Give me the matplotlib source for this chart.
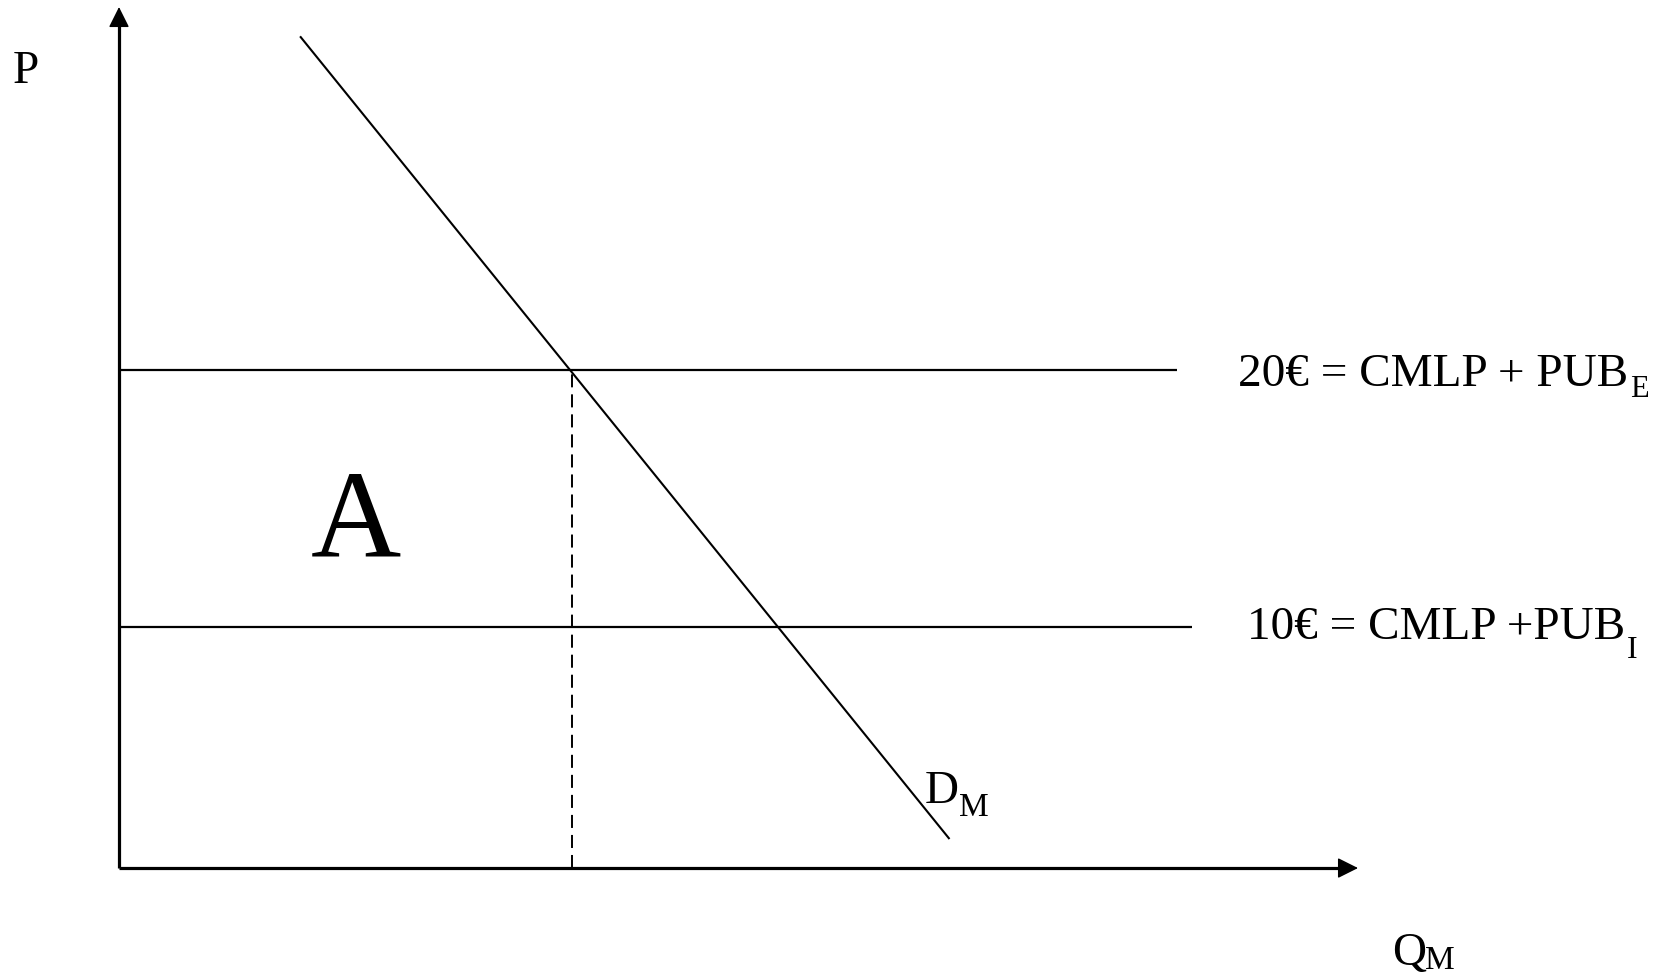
import matplotlib
matplotlib.use("Agg")
import matplotlib.pyplot as plt

plt.rcParams['font.family'] = ['Liberation Serif', 'DejaVu Serif']

# ---- data (economic units) ----
prices = [20, 10]                       # horizontal price levels
price_labels = ["20€ = CMLP + PUB", "10€ = CMLP +PUB"]
price_subs = ["E", "I"]
price_line_end_q = [46.75, 47.4]        # right ends of horizontal lines
demand_q = [8.03, 36.67]                # demand curve endpoints (Q)
demand_p = [32.93, 1.79]                # demand curve endpoints (P)
q_star = 20.0                           # quantity at P = 20
p_origin = 0.63                         # price at the horizontal axis
q_axis_end = 54.75
p_axis_end = 34.1

# ---- figure ----
W, H, DPI = 1666, 973, 100
fig = plt.figure(figsize=(W / DPI, H / DPI), dpi=DPI)
ax = fig.add_axes([0, 0, 1, 1])
ax.set_axis_off()

# pixel <-> data mapping (origin of axes at px (119, 868))
QPX, PPX = 22.63, 25.725
X0, Y0 = 119.0, 884.25
def q_of(px):
    return (px - X0) / QPX
def p_of(py):
    return (Y0 - py) / PPX

ax.set_xlim(q_of(0), q_of(W))
ax.set_ylim(p_of(H), p_of(0))

k = 'black'
# axes with arrows
ax.plot([0, 0], [p_origin, p_axis_end - 0.4], color=k, lw=2.3, solid_capstyle='butt')
ax.plot([0, q_axis_end - 0.4], [p_origin, p_origin], color=k, lw=2.3, solid_capstyle='butt')
ax.annotate('', xy=(0, p_axis_end), xytext=(0, p_axis_end - 1.5),
            arrowprops=dict(arrowstyle='-|>', lw=1.0, color=k, mutation_scale=32,
                            shrinkA=0, shrinkB=0))
ax.annotate('', xy=(q_axis_end, p_origin), xytext=(q_axis_end - 1.5, p_origin),
            arrowprops=dict(arrowstyle='-|>', lw=1.0, color=k, mutation_scale=32,
                            shrinkA=0, shrinkB=0))

# horizontal price lines
for p, qe in zip(prices, price_line_end_q):
    ax.plot([0, qe], [p, p], color=k, lw=1.6, solid_capstyle='butt')

# demand curve
ax.plot(demand_q, demand_p, color=k, lw=1.5)

# dashed vertical
ax.plot([q_star, q_star], [p_origin, prices[0]], color=k, lw=1.4,
        dashes=(6.7, 3.6))

# ---- text ----
def txt(px, py, s, size, **kw):
    return ax.text(q_of(px), p_of(py), s, fontsize=size, ha='left', va='baseline',
                   color=k, **kw)

txt(13, 83, "P", 34)
t1 = txt(1238, 386, price_labels[0], 34)
t2 = txt(1247, 639, price_labels[1], 34)
ax.text(q_of(356), p_of(557), "A", fontsize=90, ha='center', va='baseline', color=k)
txt(925, 803, "D", 34)
txt(959, 816, "M", 24)
txt(1392, 965, "Q", 34)
txt(1425, 969, "M", 24)

# subscripts placed right after the main labels
fig.canvas.draw()
r = fig.canvas.get_renderer()
for t, sub, base_px, size in [(t1, price_subs[0], 397, 22), (t2, price_subs[1], 658, 23)]:
    bb = t.get_window_extent(r)
    x_px = bb.x1 + 2
    txt(x_px, base_px, sub, size)

fig.savefig("out.png", dpi=DPI)
